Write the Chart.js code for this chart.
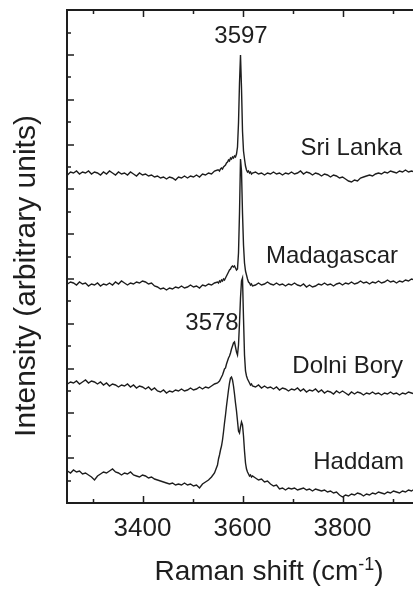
<!DOCTYPE html>
<html>
<head>
<meta charset="utf-8">
<script src="https://cdn.jsdelivr.net/npm/chart.js@4.4.1/dist/chart.umd.min.js"></script>
<style>
html, body { margin: 0; padding: 0; background: #fff; overflow: hidden; }
#wrap { width: 413px; height: 592px; }
</style>
</head>
<body>
<div id="wrap"><canvas id="raman"></canvas></div>
<script>
// Raman shift (cm-1), finer sampling around the OH peaks
const shift = [
    3250,3256,3262,3268,3274,3280,3286,3292,3298,3304,3310,3316,3322,3328,3334,3340,3346,3352,3358,3364,
    3370,3376,3382,3388,3394,3400,3406,3412,3418,3424,3430,3436,3442,3448,3454,3460,3466,3472,3478,3484,
    3490,3496,3502,3508,3514,3520,3526,3532,3538,3544,3550,
    3552,3554,3556,3558,3560,3562,3564,3566,3568,3570,3572,3574,3576,3578,3580,3582,3584,3586,3588,3590,
    3592,3594,3596,3598,3600,3602,3604,3606,3608,3610,3612,3614,3616,3618,3620,
    3626,3632,3638,3644,3650,3656,3662,3668,3674,3680,3686,3692,3698,3704,3710,3716,3722,3728,3734,3740,
    3746,3752,3758,3764,3770,3776,3782,3788,3794,3800,3806,3812,3818,3824,3830,3836,3842,3848,3854,3860,
    3866,3872,3878,3884,3890,3896,3902,3908,3914,3920,3926,3932,3938,3944
];

// intensities (arbitrary units, traces already offset)
const sriLanka = [
    328,331,330,332,329,331,330,332,329,331,330,328,331,329,332,330,328,331,329,330,
    328,331,329,327,330,328,329,327,328,326,327,325,326,324,326,325,323,326,325,327,
    325,327,326,328,326,329,328,330,329,332,333,
    333,332,334,335,334,336,337,338,340,341,343,342,345,344,346,345,347,346,349,356,
    380,420,448,415,372,352,344,337,333,331,332,330,331,329,330,
    331,329,330,328,330,329,331,329,330,328,330,329,331,329,330,332,329,331,330,328,
    330,329,327,329,328,326,328,327,325,326,324,322,321,323,322,325,326,327,328,327,
    329,330,329,331,330,332,331,330,332,331,333,331,332,331
];

const madagascar = [
    219,221,220,218,221,219,220,217,219,218,220,217,219,218,220,218,221,219,222,220,
    218,220,219,221,220,222,221,219,220,217,216,214,215,213,215,214,216,215,217,215,
    216,218,216,217,215,218,217,219,218,220,221,
    220,222,221,223,222,224,223,225,227,229,231,233,234,236,237,236,237,235,233,234,
    250,290,344,332,290,258,240,232,228,224,221,220,218,219,217,
    218,220,218,219,221,219,218,220,218,219,217,219,218,220,218,217,219,216,218,216,
    217,219,218,220,218,219,217,219,220,218,220,219,221,219,220,222,220,221,219,221,
    220,222,220,221,223,221,222,220,222,221,223,222,224,223
];

const dolniBory = [
    119,121,120,122,119,121,123,120,122,121,119,121,118,120,117,119,118,116,118,117,
    119,116,118,115,117,116,114,116,113,115,112,111,113,110,112,111,113,112,114,112,
    113,115,113,114,116,114,116,115,117,119,120,
    121,122,124,126,128,131,134,135,139,142,145,147,150,154,157,160,161,156,151,148,
    158,180,205,222,225,185,148,132,127,124,122,120,118,119,117,
    116,118,115,117,115,116,114,116,113,115,114,112,114,113,115,112,114,111,113,112,
    114,111,113,110,112,111,109,112,110,112,110,108,111,109,111,110,108,110,109,111,
    109,110,108,110,109,111,109,110,108,110,109,111,110,109
];

const haddam = [
    32,30,33,31,32,29,30,28,26,23,27,29,31,30,32,34,31,30,28,30,
    29,31,28,27,26,28,27,25,26,24,23,22,21,20,19,20,18,19,18,20,
    18,19,17,18,15,19,21,23,26,30,38,
    44,48,53,57,63,71,80,88,97,105,113,120,125,126,123,117,109,100,92,82,
    72,70,76,81,78,67,52,40,34,31,29,27,28,26,27,
    25,23,24,21,22,19,17,18,14,15,13,15,14,15,13,14,15,13,14,12,
    14,13,12,13,11,12,10,11,8,6,8,7,9,8,10,9,7,9,8,10,
    9,11,10,9,11,10,12,11,10,12,11,13,12,14
];

const xLabelTicks = [3400, 3600, 3800];
const xMinorTicks = [3300, 3500, 3700, 3900];
const yTickStep = 22.4;

// text placed on the plot, in data units
const sampleLabels = [
    { text: 'Sri Lanka', x: 3919, y: 348 },
    { text: 'Madagascar', x: 3911, y: 240 },
    { text: 'Dolni Bory', x: 3921, y: 130 },
    { text: 'Haddam', x: 3923, y: 34 }
];
const peakLabels = [
    { text: '3597', x: 3597, y: 460 },
    { text: '3578', x: 3539, y: 173 }
];

const FONT = '"Liberation Sans", Arial, sans-serif';
const INK = '#1e1e1e';

function toPoints(values) {
    return values.map((v, i) => ({ x: shift[i], y: v }));
}

const frameAndText = {
    id: 'frameAndText',
    afterDraw(chart) {
        const ctx = chart.ctx;
        const area = chart.chartArea;
        const xs = chart.scales.x;
        const ys = chart.scales.y;
        ctx.save();
        ctx.strokeStyle = INK;
        ctx.lineCap = 'square';

        // frame: left, top, bottom (right side runs off the page)
        ctx.lineWidth = 2;
        ctx.beginPath();
        ctx.moveTo(area.right + 2, area.top);
        ctx.lineTo(area.left, area.top);
        ctx.lineTo(area.left, area.bottom);
        ctx.lineTo(area.right + 2, area.bottom);
        ctx.stroke();

        // inward ticks
        ctx.lineWidth = 1.5;
        ctx.lineCap = 'butt';
        ctx.beginPath();
        for (let k = 0; k * yTickStep <= ys.max; k++) {
            const py = Math.round(ys.getPixelForValue(k * yTickStep));
            const len = k % 2 === 0 ? 7 : 4;
            ctx.moveTo(area.left, py);
            ctx.lineTo(area.left + len, py);
        }
        xLabelTicks.concat(xMinorTicks).forEach(v => {
            const px = Math.round(xs.getPixelForValue(v)) + 0.5;
            const len = xLabelTicks.includes(v) ? 7 : 4;
            ctx.moveTo(px, area.bottom);
            ctx.lineTo(px, area.bottom - len);
            ctx.moveTo(px, area.top);
            ctx.lineTo(px, area.top + len);
        });
        ctx.stroke();

        // sample names and peak positions
        ctx.fillStyle = INK;
        ctx.font = '24px ' + FONT;
        ctx.textBaseline = 'alphabetic';
        ctx.textAlign = 'right';
        sampleLabels.forEach(l => {
            ctx.fillText(l.text, xs.getPixelForValue(l.x), ys.getPixelForValue(l.y));
        });
        ctx.textAlign = 'center';
        peakLabels.forEach(l => {
            ctx.fillText(l.text, xs.getPixelForValue(l.x), ys.getPixelForValue(l.y));
        });

        // x axis title with superscript
        const main = 'Raman shift (cm';
        const sup = '-1';
        const tail = ')';
        ctx.font = '28px ' + FONT;
        const wMain = ctx.measureText(main).width;
        const wTail = ctx.measureText(tail).width;
        ctx.font = '18px ' + FONT;
        const wSup = ctx.measureText(sup).width;
        let tx = 269 - (wMain + wSup + wTail) / 2;
        const ty = 580;
        ctx.textAlign = 'left';
        ctx.font = '28px ' + FONT;
        ctx.fillText(main, tx, ty);
        tx += wMain;
        ctx.font = '18px ' + FONT;
        ctx.fillText(sup, tx, ty - 10);
        tx += wSup;
        ctx.font = '28px ' + FONT;
        ctx.fillText(tail, tx, ty);

        // y axis title
        ctx.translate(35, 276);
        ctx.rotate(-Math.PI / 2);
        ctx.textAlign = 'center';
        ctx.font = '30px ' + FONT;
        ctx.fillText('Intensity (arbitrary units)', 0, 0);
        ctx.restore();
    }
};

const ctx = document.getElementById('raman').getContext('2d');
new Chart(ctx, {
    type: 'line',
    data: {
        datasets: [sriLanka, madagascar, dolniBory, haddam].map(values => ({
            data: toPoints(values),
            borderColor: INK,
            borderWidth: 1.4,
            pointRadius: 0,
            tension: 0,
            fill: false
        }))
    },
    options: {
        responsive: true,
        maintainAspectRatio: false,
        animation: false,
        events: [],
        layout: { padding: { top: 10, left: 0, right: 0, bottom: 0 } },
        plugins: {
            legend: { display: false },
            tooltip: { enabled: false }
        },
        scales: {
            x: {
                type: 'linear',
                min: 3249,
                max: 3941,
                afterBuildTicks: scale => {
                    scale.ticks = xLabelTicks.map(v => ({ value: v }));
                },
                afterFit: scale => { scale.height = 89; },
                grid: { display: false, drawTicks: false },
                border: { display: false },
                ticks: {
                    padding: 10,
                    color: INK,
                    font: { family: FONT, size: 26 },
                    maxRotation: 0,
                    callback: v => String(v)
                }
            },
            y: {
                min: 0,
                max: 493,
                afterFit: scale => { scale.width = 67; },
                grid: { display: false, drawTicks: false },
                border: { display: false },
                ticks: { display: false }
            }
        }
    },
    plugins: [frameAndText]
});
</script>
</body>
</html>
